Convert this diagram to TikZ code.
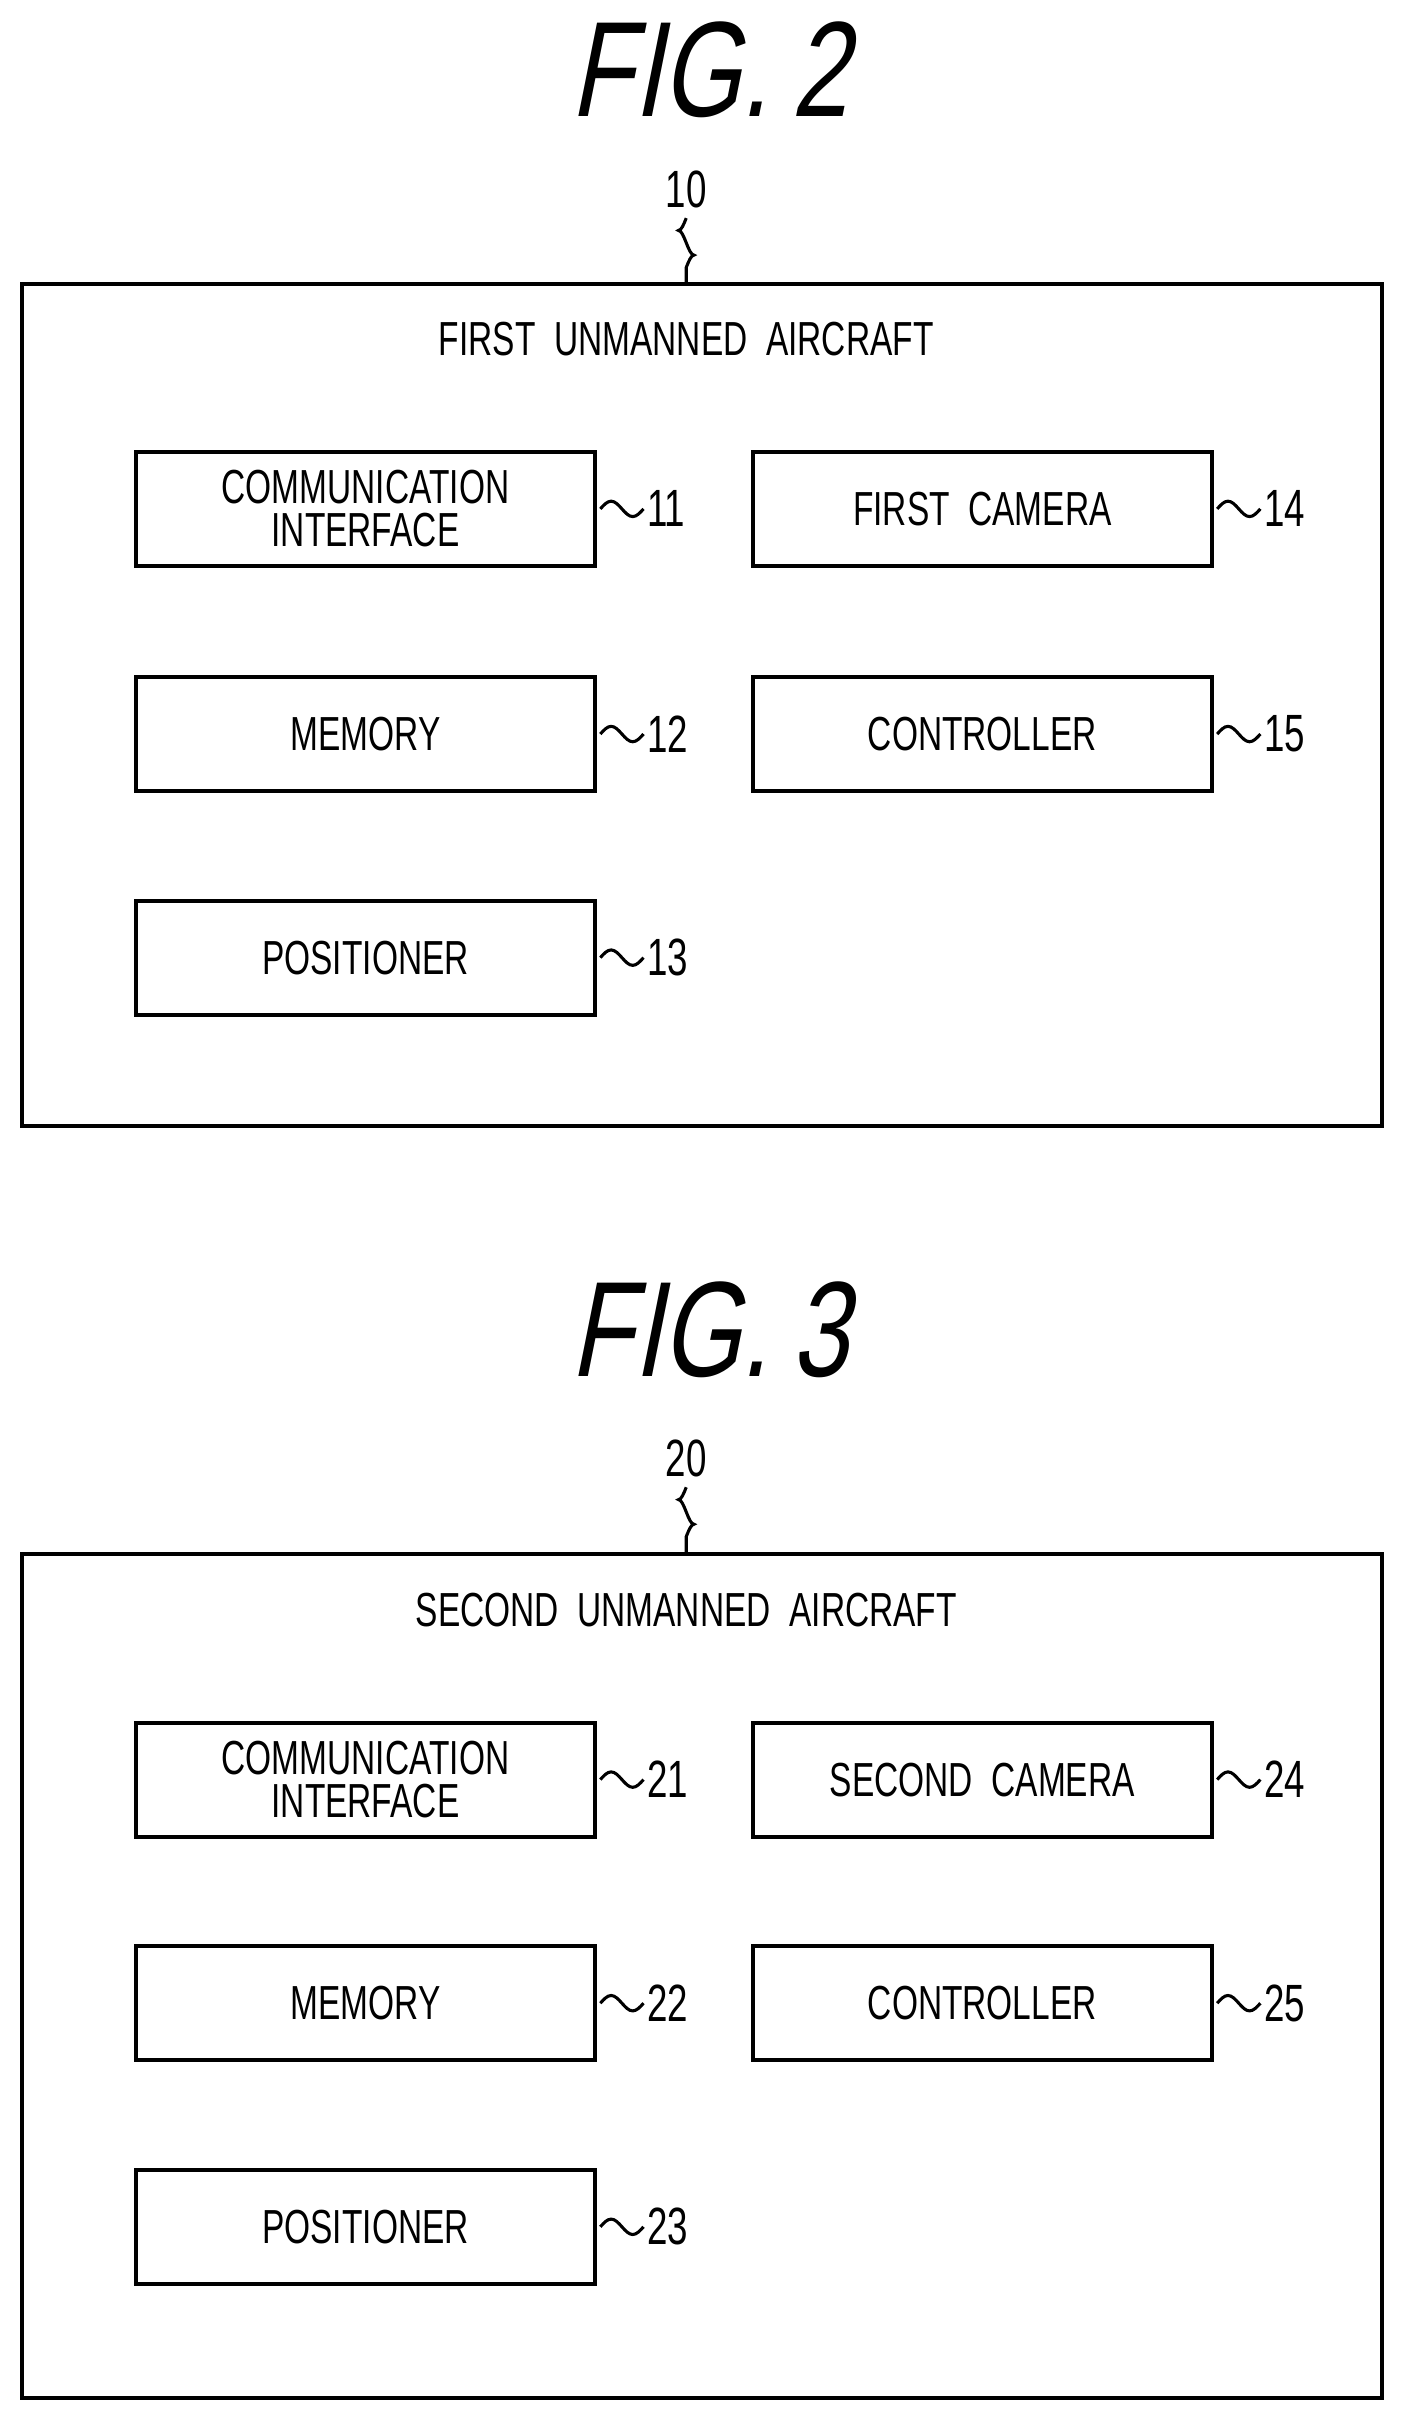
\documentclass[tikz,border=0pt]{standalone}
\usepackage{fontspec}
\setmainfont{Liberation Sans}
\newfontfamily\cond[FakeStretch=0.7]{Liberation Sans}
\newfontfamily\figf[FakeStretch=0.75,FakeSlant=0.2]{Liberation Sans}
\begin{document}
\begin{tikzpicture}[x=0.5pt,y=-0.5pt,
  blk/.style={draw,line width=1.3pt,minimum width=149pt,minimum height=37pt,inner sep=0pt,font=\cond\fontsize{15.5}{15}\selectfont,align=center},
  outer/.style={draw,line width=1.3pt},
  lbl/.style={font=\cond\fontsize{17}{17}\selectfont,inner sep=1pt},
  fig/.style={font=\figf\fontsize{44}{44}\selectfont},
  sq/.style={line width=1pt}]
\useasboundingbox (0,0) rectangle (910,1568);
% FIG 2
\node[fig] (f2) at (460,45) {FIG.\,2};
\node[lbl] (n10) at (445,123) {10};
\draw[outer] (14,184) rectangle (896,730);
\coordinate (t10) at (445,184);
\node[lbl,font=\cond\fontsize{15.5}{15}\selectfont] (h1) at (445,220) {FIRST\ \ UNMANNED\ \ AIRCRAFT};
\node[blk] (b11) at (237,330) {COMMUNICATION\\[-1pt] INTERFACE};
\node[blk] (b12) at (237,476) {MEMORY};
\node[blk] (b13) at (237,621) {POSITIONER};
\node[blk] (b14) at (637,330) {FIRST\ \ CAMERA};
\node[blk] (b15) at (637,476) {CONTROLLER};
% FIG 3
\node[fig] (f3) at (460,862) {FIG.\,3};
\node[lbl] (n20) at (445,946) {20};
\draw[outer] (14,1008) rectangle (896,1555);
\coordinate (t20) at (445,1008);
\node[lbl,font=\cond\fontsize{15.5}{15}\selectfont] (h2) at (445,1044) {SECOND\ \ UNMANNED\ \ AIRCRAFT};
\node[blk] (b21) at (237,1154) {COMMUNICATION\\[-1pt] INTERFACE};
\node[blk] (b22) at (237,1299) {MEMORY};
\node[blk] (b23) at (237,1444) {POSITIONER};
\node[blk] (b24) at (637,1154) {SECOND\ \ CAMERA};
\node[blk] (b25) at (637,1299) {CONTROLLER};
% vertical squiggles
\foreach \a/\b in {n10/t10,n20/t20}{
  \draw[sq] (\a.south) ++(0,4) sin ++(-5,8) cos ++(5,8) sin ++(5,8) cos ++(-5,8) -- (\b);
}
% horizontal squiggles + numbers
\foreach \b/\n in {b11/11,b12/12,b13/13,b14/14,b15/15,b21/21,b22/22,b23/23,b24/24,b25/25}{
  \draw[sq] (\b.east) ++(2,0) sin ++(7,-5) cos ++(7,5) sin ++(7,5) cos ++(7,-5) coordinate (e\n);
  \node[lbl,anchor=west] (l\n) at (e\n) {\n};
}
\end{tikzpicture}
\end{document}
